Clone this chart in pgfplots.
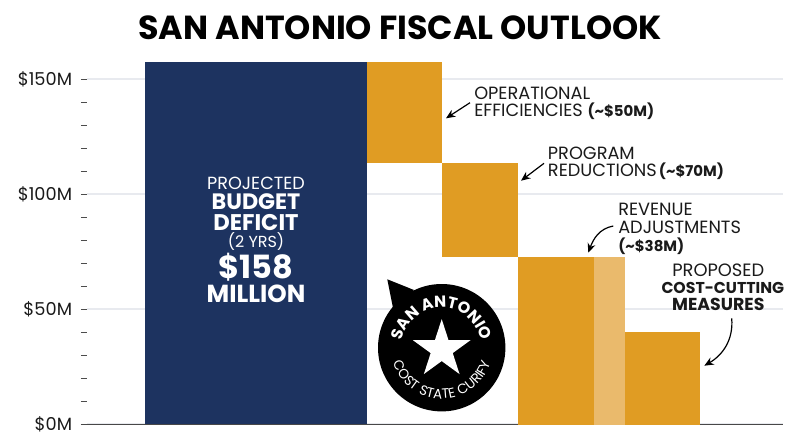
\documentclass[border=0pt]{standalone}
\usepackage{fontspec}
\setmainfont{Poppins}
\usepackage{pgfplots}
\pgfplotsset{compat=1.18}
\usetikzlibrary{arrows.meta,decorations.text,shapes.geometric}
\definecolor{navy}{HTML}{1D3360}
\definecolor{gold}{HTML}{E09C23}
\definecolor{lgold}{HTML}{EABA6C}
\definecolor{gridc}{HTML}{E8EAEF}
\definecolor{ink}{HTML}{1A1A1A}
\newcommand{\fs}[1]{\fontsize{#1pt}{#1pt}\selectfont}
\begin{document}
\begin{tikzpicture}
\begin{axis}[
  at={(65.25pt,-318pt)}, anchor=origin,
  scale only axis, width=522pt, height=276pt,
  xmin=87, xmax=783, ymin=0, ymax=160,
  clip=false,
  axis line style={draw=none},
  xtick=\empty,
  ytick={0,50,100,150},
  yticklabels={\$0M,\$50M,\$100M,\$150M},
  minor ytick={10,20,30,40,60,70,80,90,110,120,130,140},
  ytick pos=left, tick align=outside,
  major tick length=4.5pt, minor tick length=4.5pt,
  tick style={draw=black!70, line width=0.7pt},
  ymajorgrids, major grid style={draw=gridc, line width=0.9pt},
  yticklabel style={font=\fs{13.3}, text=ink, xshift=-3.2pt},
]
\addplot[ink!80, line width=0.7pt] coordinates {(81,0)(783,0)};
\addplot[fill=navy, draw=none] coordinates {(144.5,0)(144.5,157.4)(367,157.4)(367,0)} -- cycle;
\addplot[fill=gold, draw=none] coordinates {(367,113.3)(367,157.4)(442,157.4)(442,113.3)} -- cycle;
\addplot[fill=gold, draw=none] coordinates {(442,72.7)(442,113.3)(518,113.3)(518,72.7)} -- cycle;
\addplot[fill=gold, draw=none] coordinates {(518,-0.5)(518,72.7)(593.5,72.7)(593.5,-0.5)} -- cycle;
\addplot[fill=lgold, draw=none] coordinates {(593.5,-0.5)(593.5,72.7)(625,72.7)(625,-0.5)} -- cycle;
\addplot[fill=gold, draw=none] coordinates {(625,-0.5)(625,40.1)(699.7,40.1)(699.7,-0.5)} -- cycle;
\end{axis}
\begin{scope}[x=0.75pt,y=-0.75pt]
\path[use as bounding box] (0,0) rectangle (800,447);
% title
\node[anchor=base, text=black] at (400,39) {\fs{25}\bfseries SAN ANTONIO FISCAL OUTLOOK};
% deficit text
\begin{scope}[every node/.style={anchor=base,text=white}]
\node at (256,189) {\fs{13.2}PROJECTED};
\node at (256,209.3) {\fs{16.7}\bfseries BUDGET};
\node at (256,230) {\fs{17}\bfseries DEFICIT};
\node at (256,247.3) {\fs{12}(2 YRS)};
\node at (256,278.3) {\fs{24}\bfseries \$158};
\node at (256,302.7) {\fs{18.5}\bfseries MILLION};
\end{scope}
% annotations
\begin{scope}[every node/.style={anchor=base west,text=ink,inner xsep=0pt}]
\node at (474,99.5) {\fs{13.3}OPERATIONAL};
\node at (474,116.7) {\fs{13.3}EFFICIENCIES {\fs{11.2}\bfseries(\char`\~\$50M)}};
\node at (547.7,159) {\fs{13.3}PROGRAM};
\node at (547.7,176) {\fs{13.3}REDUCTIONS\hspace{-2pt} {\fs{11.2}\bfseries(\char`\~\$70M)}};
\node at (618,215.7) {\fs{13.3}REVENUE};
\node at (618,233) {\fs{13.3}ADJUSTMENTS};
\node at (618,251) {\fs{11.2}\bfseries(\char`\~\$38M)};
\end{scope}
\begin{scope}[every node/.style={anchor=base,text=ink,inner xsep=0pt}]
\node at (718.3,276) {\fs{13.4}PROPOSED};
\node at (722.8,293.3) {\fs{11.8}\bfseries COST-CUTTING};
\node at (718.3,310.7) {\fs{13}\bfseries MEASURES};
\end{scope}
% arrows
\begin{scope}[line width=0.9pt, -{Stealth[length=7pt,width=6pt]}, black]
\draw (470,102.7) -- (446,118.3);
\draw (544,163.3) -- (521,180.7);
\draw (613.3,226) to[out=190,in=70] (588.3,252.7);
\draw (731.7,318.3) to[out=-85,in=30] (704.3,365.7);
\end{scope}
% logo
\fill[black] (441.7,347.7) circle[radius=63.7];
\fill[black] (387.3,279.3) -- (393,308) -- (414,290) -- cycle;
\node[star,star points=5,star point ratio=2.618,fill=white,inner sep=0pt,minimum size=45.5pt] at (441.7,349.5) {};
\path[decorate,decoration={text along path,text align=center,text color=white,
  text={|\fs{12}\bfseries|SAN ANTONIO}}]
  (441.7-40,347.7) arc[start angle=180,end angle=360,radius=40];
\path[decorate,decoration={text along path,text align=center,text color=white,
  text={|\fs{10.2}\addfontfeature{LetterSpace=4}|COST STATE CURIFY}}]
  (441.7-51,347.7) arc[start angle=180,end angle=0,radius=51];
\end{scope}
\end{tikzpicture}
\end{document}
